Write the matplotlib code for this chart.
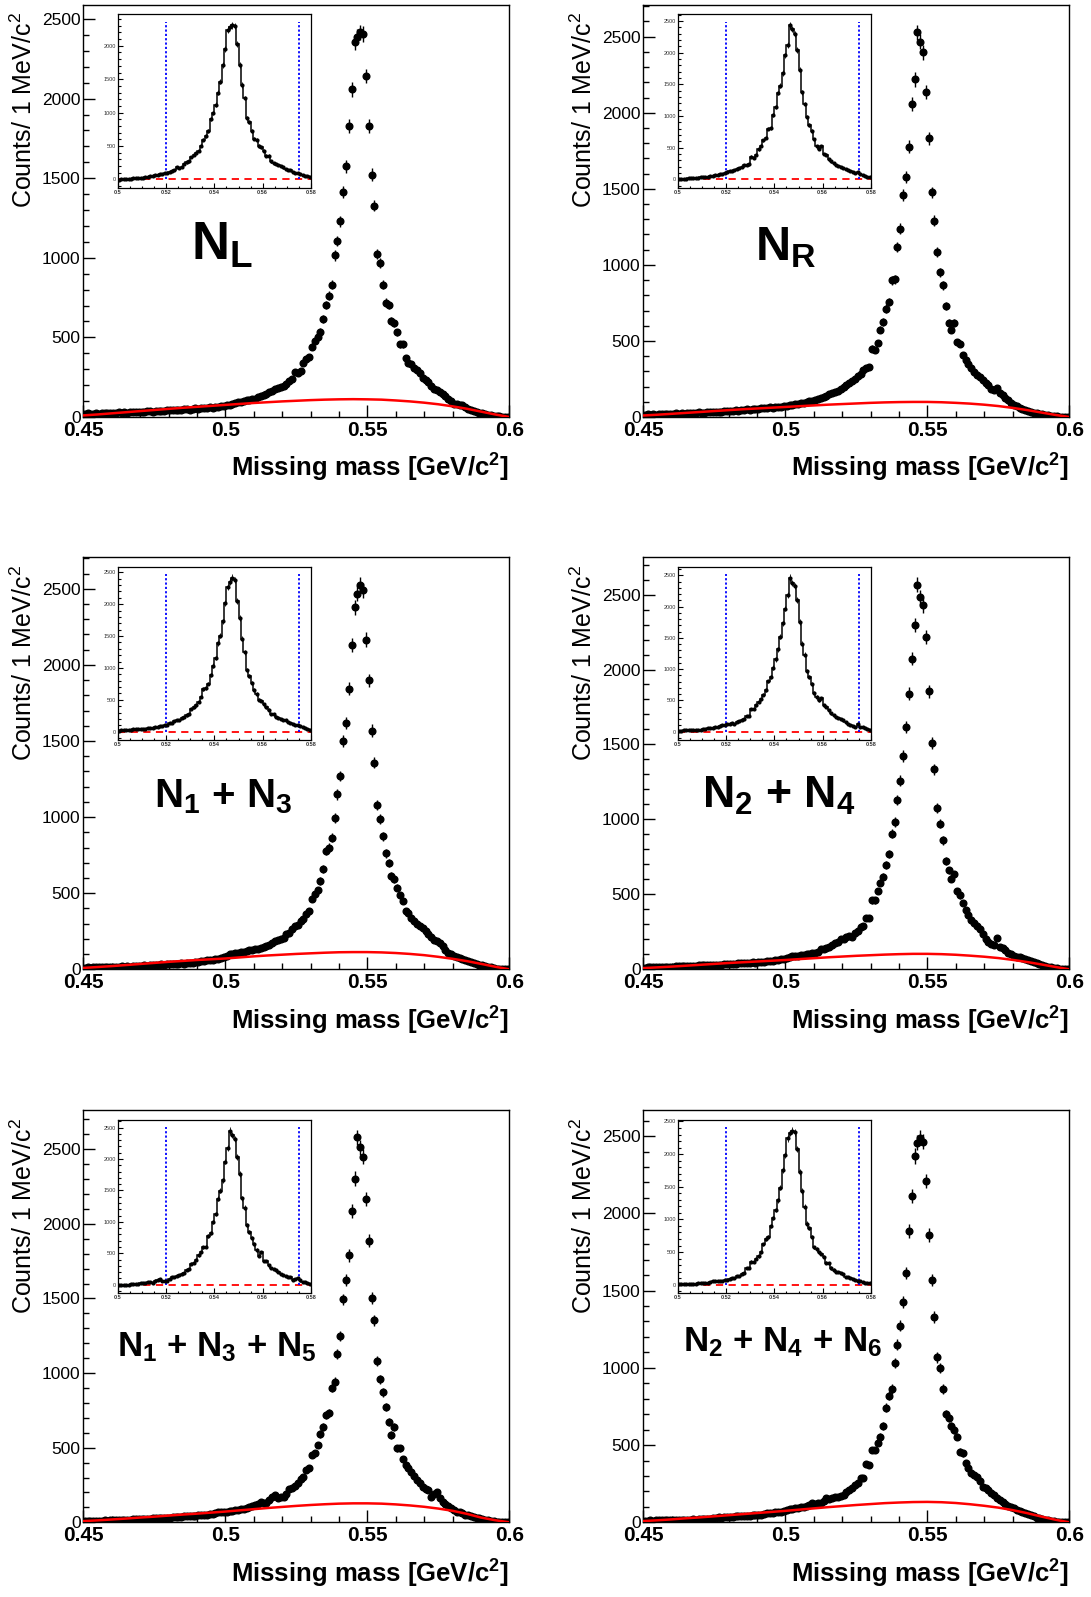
import numpy as np
import matplotlib
matplotlib.use("Agg")
import matplotlib.pyplot as plt
from matplotlib.ticker import MultipleLocator

plt.rcParams['font.family'] = ['Liberation Sans', 'DejaVu Sans']
plt.rcParams['mathtext.fontset'] = 'custom'
plt.rcParams['mathtext.rm'] = 'Liberation Sans'
plt.rcParams['mathtext.bf'] = 'Liberation Sans:bold'
plt.rcParams['mathtext.it'] = 'Liberation Sans:italic'

# 1 MeV bins, 0.45 - 0.60 GeV
edges = np.linspace(0.45, 0.60, 151)
centers = 0.5 * (edges[:-1] + edges[1:])
# background fit sampled every 5 MeV
bkg_x = np.linspace(0.45, 0.60, 31)

counts_NL = [
    18, 22, 20, 19, 24, 21, 23, 25, 22, 26,
    24, 27, 29, 26, 30, 28, 31, 33, 30, 32,
    34, 31, 36, 35, 33, 38, 36, 40, 38, 42,
    44, 41, 45, 47, 43, 48, 50, 47, 52, 54,
    51, 56, 55, 58, 60, 57, 63, 61, 66, 70,
    74, 78, 82, 86, 92, 96, 100, 104, 108, 114,
    116, 124, 130, 136, 146, 158, 166, 176, 180, 189,
    195, 205, 225, 240, 284, 275, 290, 340, 362, 378,
    441, 479, 504, 536, 614, 704, 763, 830, 1015, 1107,
    1229, 1412, 1575, 1827, 2058, 2353, 2390, 2416, 2405, 2142,
    1827, 1523, 1328, 1025, 966, 830, 718, 704, 605, 588,
    532, 456, 456, 371, 340, 330, 310, 294, 275, 242,
    235, 221, 195, 179, 170, 158, 147, 130, 116, 100,
    84, 80, 76, 74, 62, 52, 42, 36, 30, 25,
    22, 18, 14, 11, 8, 6, 4, 2, 1, 0]
counts_NR = [
    14, 17, 16, 19, 15, 20, 18, 21, 17, 22,
    20, 24, 21, 25, 23, 27, 24, 28, 26, 30,
    29, 27, 32, 30, 34, 33, 36, 35, 39, 37,
    41, 40, 44, 42, 47, 45, 50, 48, 53, 51,
    55, 58, 56, 61, 63, 60, 66, 68, 65, 71,
    72, 76, 80, 83, 86, 90, 94, 97, 102, 108,
    112, 118, 124, 130, 138, 150, 158, 165, 172, 185,
    200, 212, 225, 238, 252, 270, 285, 312, 322, 329,
    450, 439, 487, 575, 625, 713, 757, 899, 904, 1118,
    1237, 1461, 1579, 1776, 2055, 2219, 2529, 2467, 2397, 2136,
    1831, 1476, 1290, 1086, 950, 866, 728, 618, 575, 618,
    493, 483, 406, 377, 351, 320, 296, 275, 263, 245,
    224, 210, 187, 180, 193, 160, 143, 125, 110, 95,
    77, 70, 62, 55, 48, 40, 33, 29, 25, 22,
    18, 15, 11, 8, 6, 4, 3, 2, 1, 0]
counts_N13 = [
    10, 12, 11, 14, 12, 15, 13, 16, 14, 17,
    15, 18, 15, 19, 17, 20, 18, 22, 20, 24,
    22, 25, 23, 27, 25, 29, 27, 33, 30, 34,
    32, 36, 35, 38, 39, 37, 42, 44, 41, 47,
    50, 55, 52, 58, 61, 59, 66, 70, 77, 82,
    90, 98, 100, 104, 109, 112, 116, 120, 125, 128,
    131, 136, 142, 146, 153, 160, 170, 186, 190, 197,
    205, 230, 240, 263, 284, 290, 317, 330, 361, 383,
    464, 492, 521, 580, 657, 777, 799, 865, 996, 1149,
    1270, 1499, 1620, 1843, 2132, 2379, 2467, 2528, 2491, 2167,
    1898, 1569, 1357, 1079, 989, 875, 762, 700, 613, 591,
    536, 486, 449, 383, 372, 339, 320, 295, 285, 274,
    250, 230, 210, 195, 186, 170, 153, 128, 110, 98,
    90, 84, 77, 68, 62, 55, 48, 40, 33, 28,
    25, 22, 17, 12, 8, 5, 4, 3, 1, 0]
counts_N24 = [
    12, 14, 13, 15, 14, 16, 15, 17, 16, 18,
    18, 20, 19, 21, 22, 20, 23, 25, 24, 27,
    26, 28, 27, 30, 29, 31, 32, 30, 34, 33,
    36, 35, 38, 40, 39, 42, 41, 44, 46, 45,
    49, 51, 50, 54, 56, 58, 62, 64, 67, 71,
    78, 82, 86, 89, 92, 95, 98, 100, 104, 108,
    111, 118, 133, 138, 144, 152, 165, 178, 185, 200,
    205, 218, 222, 218, 240, 256, 284, 289, 344, 344,
    460, 460, 522, 578, 618, 693, 767, 904, 982, 1127,
    1258, 1422, 1618, 1838, 2073, 2296, 2567, 2482, 2429, 2216,
    1856, 1511, 1333, 1078, 971, 860, 722, 660, 604, 633,
    522, 493, 444, 393, 360, 330, 311, 289, 270, 233,
    200, 185, 167, 160, 207, 152, 144, 128, 111, 100,
    89, 84, 80, 78, 68, 62, 56, 48, 40, 33,
    28, 22, 18, 13, 9, 6, 4, 3, 2, 0]
counts_N135 = [
    8, 10, 9, 11, 10, 12, 11, 13, 12, 14,
    13, 15, 14, 17, 16, 18, 17, 19, 21, 20,
    22, 24, 23, 25, 27, 26, 28, 27, 30, 32,
    31, 34, 33, 38, 36, 40, 39, 42, 44, 43,
    49, 47, 52, 49, 55, 58, 62, 71, 66, 70,
    71, 74, 78, 80, 82, 88, 92, 98, 104, 110,
    116, 122, 138, 132, 127, 150, 172, 183, 161, 168,
    171, 190, 223, 228, 245, 261, 290, 305, 350, 362,
    451, 466, 518, 591, 640, 719, 730, 902, 942, 1125,
    1248, 1494, 1623, 1790, 2087, 2304, 2579, 2512, 2451, 2165,
    1886, 1505, 1355, 1083, 958, 871, 774, 674, 585, 640,
    496, 496, 424, 384, 366, 339, 310, 283, 265, 239,
    225, 216, 171, 190, 201, 160, 138, 125, 111, 95,
    82, 72, 66, 60, 52, 48, 44, 36, 30, 27,
    22, 18, 15, 11, 7, 5, 3, 2, 1, 0]
counts_N246 = [
    10, 11, 12, 10, 13, 12, 14, 13, 15, 14,
    15, 16, 14, 17, 16, 18, 17, 19, 18, 19,
    21, 22, 24, 23, 26, 28, 32, 30, 33, 34,
    36, 35, 38, 41, 39, 42, 40, 44, 46, 45,
    47, 50, 53, 62, 58, 61, 64, 69, 66, 72,
    80, 84, 88, 95, 92, 98, 101, 104, 110, 123,
    118, 123, 128, 140, 156, 150, 160, 164, 166, 172,
    177, 195, 209, 220, 240, 253, 285, 289, 376, 372,
    469, 469, 516, 555, 625, 743, 819, 863, 1031, 1150,
    1273, 1424, 1615, 1885, 2112, 2371, 2458, 2490, 2464, 2209,
    1859, 1567, 1329, 1067, 999, 863, 702, 674, 625, 599,
    555, 458, 447, 383, 350, 318, 305, 296, 270, 231,
    220, 209, 190, 175, 156, 145, 134, 120, 108, 100,
    91, 80, 74, 69, 58, 52, 47, 38, 30, 26,
    21, 18, 15, 11, 8, 5, 3, 2, 1, 0]

bkg_NL = [10, 16, 23, 30, 37, 44, 51, 58, 64, 70, 76, 82, 88, 93, 98, 102,
          106, 109, 111, 112, 111, 109, 104, 98, 90, 80, 67, 52, 34, 16, 0]
bkg_NR = [10, 15, 21, 27, 33, 39, 45, 51, 56, 61, 66, 71, 76, 81, 85, 89,
          93, 96, 98, 99, 99, 97, 93, 88, 81, 72, 60, 46, 30, 14, 0]
bkg_N13 = [9, 15, 21, 28, 35, 42, 49, 55, 61, 66, 71, 78, 85, 91, 96, 101,
           105, 109, 112, 113, 113, 111, 107, 101, 93, 82, 69, 54, 36, 17, 0]
bkg_N24 = [8, 13, 18, 24, 30, 36, 42, 47, 52, 57, 62, 68, 74, 80, 85, 90,
           94, 98, 101, 103, 103, 101, 97, 91, 84, 75, 63, 49, 33, 16, 0]
bkg_N135 = [8, 13, 19, 25, 32, 38, 45, 52, 58, 65, 72, 80, 88, 96, 103, 110,
            116, 121, 125, 127, 127, 125, 120, 113, 104, 92, 77, 57, 32, 14, 0]
bkg_N246 = [8, 13, 19, 26, 32, 39, 46, 53, 60, 67, 74, 82, 90, 98, 105, 112,
            118, 124, 128, 131, 132, 130, 125, 117, 107, 95, 79, 60, 38, 17, 0]

labels = ['N$_\\mathbf{L}$', 'N$_\\mathbf{R}$',
          'N$_\\mathbf{1}$ + N$_\\mathbf{3}$', 'N$_\\mathbf{2}$ + N$_\\mathbf{4}$',
          'N$_\\mathbf{1}$ + N$_\\mathbf{3}$ + N$_\\mathbf{5}$',
          'N$_\\mathbf{2}$ + N$_\\mathbf{4}$ + N$_\\mathbf{6}$']
signal_window = [0.52, 0.575]

all_counts = [counts_NL, counts_NR, counts_N13, counts_N24, counts_N135, counts_N246]
all_bkg = [bkg_NL, bkg_NR, bkg_N13, bkg_N24, bkg_N135, bkg_N246]

# label placement (axes fraction x, baseline y, fontsize)
label_style = [(0.325, 0.381, 38), (0.334, 0.380, 35),
               (0.329, 0.392, 29), (0.319, 0.392, 32),
               (0.313, 0.402, 25), (0.327, 0.416, 25)]

W, H = 1091, 1597
fig = plt.figure(figsize=(W / 100, H / 100), dpi=100)

lefts = [83.3, 643.3]
tops = [5, 557.3, 1110.3]
aw, ah = 426, 412


def fmt_g(v, pos):
    return '%g' % round(v, 4)


def draw_panel(ax, counts, bkg, label, style):
    counts = np.array(counts, dtype=float)
    err = np.sqrt(counts)
    ax.errorbar(centers, counts, yerr=err, fmt='o', ms=4.8, color='k',
                elinewidth=1.0, capsize=0, zorder=3)
    ax.plot(bkg_x, bkg, color='red', lw=1.8, zorder=4)
    ax.set_xlim(0.45, 0.60)
    ax.set_ylim(0, 1.05 * np.max(counts + err))

    ax.xaxis.set_major_locator(MultipleLocator(0.05))
    ax.xaxis.set_minor_locator(MultipleLocator(0.01))
    ax.yaxis.set_major_locator(MultipleLocator(500))
    ax.yaxis.set_minor_locator(MultipleLocator(100))
    ax.xaxis.set_major_formatter(plt.FuncFormatter(fmt_g))
    ax.tick_params(which='both', direction='in', top=False, right=False, width=1)
    ax.tick_params(which='major', length=8.6)
    ax.tick_params(which='minor', length=4.5)
    ax.tick_params(axis='y', labelsize=12.5, pad=2)
    ax.tick_params(axis='x', labelsize=15, pad=3)
    for t in ax.get_xticklabels():
        t.set_fontweight('bold')
    for s in ax.spines.values():
        s.set_linewidth(1.0)

    ax.set_xlabel('Missing mass [GeV/c$^\\mathbf{2}$]', fontsize=18.5,
                  fontweight='bold', loc='right')
    ax.xaxis.set_label_coords(1.0, -0.085)
    ax.set_ylabel('Counts/ 1 MeV/c$^{2}$', fontsize=18, loc='top')
    ax.yaxis.set_label_coords(-0.108, 0.982)

    ax.text(style[0], style[1], label, transform=ax.transAxes, ha='center',
            va='baseline', fontsize=style[2], fontweight='bold')

    # background-subtracted inset
    ins = ax.inset_axes([34.4 / aw, 1 - 182.7 / ah, 193.3 / aw, 173.4 / ah])
    sel = slice(50, 130)
    bkg_at = np.interp(centers, bkg_x, bkg)
    sub = counts - bkg_at
    ins.stairs(sub[sel], edges[50:131], color='k', lw=1.1)
    ins.errorbar(centers[sel], sub[sel], yerr=err[sel], fmt='o', ms=2.0,
                 color='k', elinewidth=0.6, capsize=0)
    top = 1.05 * np.max(sub[sel] + err[sel])
    ins.set_xlim(0.50, 0.58)
    ins.set_ylim(-0.05 * top, top)
    ins.plot([0.50, 0.58], [0, 0], color='red', ls=(0, (4, 3)), lw=1.3)
    for xw in signal_window:
        ins.plot([xw, xw], [0, np.max(sub[sel] + err[sel])], color='blue',
                 ls=(0, (1.2, 1.2)), lw=1.3)
    ins.xaxis.set_major_locator(MultipleLocator(0.02))
    ins.xaxis.set_minor_locator(MultipleLocator(0.005))
    ins.yaxis.set_major_locator(MultipleLocator(500))
    ins.yaxis.set_minor_locator(MultipleLocator(100))
    ins.xaxis.set_major_formatter(plt.FuncFormatter(fmt_g))
    ins.tick_params(which='both', direction='in', top=False, right=False,
                    labelsize=4, pad=1.5, labelcolor='#333333', width=0.8)
    ins.tick_params(which='major', length=3.5)
    ins.tick_params(which='minor', length=1.8)
    for t in ins.get_xticklabels():
        t.set_fontweight('bold')
    for s in ins.spines.values():
        s.set_linewidth(0.9)


k = 0
for r in range(3):
    for c in range(2):
        l = lefts[c]
        t = tops[r]
        ax = fig.add_axes([l / W, 1 - (t + ah) / H, aw / W, ah / H])
        draw_panel(ax, all_counts[k], all_bkg[k], labels[k], label_style[k])
        k += 1

fig.savefig('out.png', dpi=100)
